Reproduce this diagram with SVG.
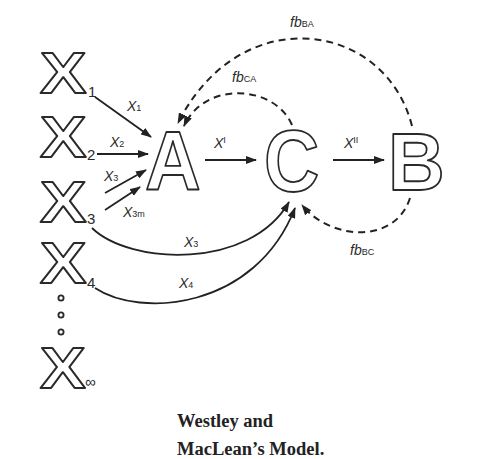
<svg xmlns="http://www.w3.org/2000/svg" width="480" height="459" viewBox="0 0 480 459">
<style>
.big{font-family:"Liberation Sans",Arial,sans-serif;fill:#fff;stroke:#2a2a2a;stroke-width:1.8;stroke-linejoin:round}
.bx{font-weight:bold;font-size:58px}
.sub{font-family:"Liberation Sans",Arial,sans-serif;font-size:15px;fill:#2a2a2a}
.lbl{font-family:"Liberation Sans",Arial,sans-serif;font-style:italic;font-size:14px;fill:#2a2a2a}
.sm{font-size:9px;font-style:normal}
.ln{fill:none;stroke:#222;stroke-width:1.8}
.dash{fill:none;stroke:#222;stroke-width:2;stroke-dasharray:7 5}
.cap{font-family:"Liberation Serif","Times New Roman",serif;font-weight:bold;font-size:18.5px;fill:#222}
</style>
<defs>
<marker id="ah" markerWidth="11" markerHeight="8" refX="10" refY="4" orient="auto" markerUnits="userSpaceOnUse">
<path d="M0,0 L11,4 L0,8 Z" fill="#222"/>
</marker>
</defs>
<rect width="480" height="459" fill="#fff"/>

<g id="X1"><text class="big bx" transform="translate(40,93) scale(1.2,1)">X</text><text class="sub" x="88" y="97">1</text></g>
<g id="X2"><text class="big bx" transform="translate(40,157) scale(1.2,1)">X</text><text class="sub" x="87" y="160">2</text></g>
<g id="X3"><text class="big bx" transform="translate(40,222) scale(1.2,1)">X</text><text class="sub" x="87" y="224">3</text></g>
<g id="X4"><text class="big bx" transform="translate(40,283) scale(1.2,1)">X</text><text class="sub" x="87" y="288">4</text></g>
<g id="dots" fill="none" stroke="#2a2a2a" stroke-width="1.8"><circle cx="61" cy="298" r="2.6"/><circle cx="61" cy="315" r="2.6"/><circle cx="61" cy="332" r="2.6"/></g>
<g id="Xinf"><text class="big bx" transform="translate(40,388) scale(1.18,1)">X</text><text class="sub" x="85" y="387" font-size="13">∞</text></g>

<g id="A"><text class="big" font-size="84" font-weight="bold" transform="translate(145,190) scale(0.92,1)">A</text></g>
<g id="C"><text class="big" font-size="87" font-weight="bold" transform="translate(264,191) scale(0.88,1)">C</text></g>
<g id="B"><text class="big" font-size="81" font-weight="bold" transform="translate(388,190) scale(0.97,1)">B</text></g>

<g id="connectors">
<path class="ln" d="M95,97 L151,137" marker-end="url(#ah)"/>
<path class="ln" d="M97,154 L148,154" marker-end="url(#ah)"/>
<path class="ln" d="M105,193 L146,170" marker-end="url(#ah)"/>
<path class="ln" d="M105,210 L140,187" marker-end="url(#ah)"/>
<path class="ln" d="M205,160 L256,160" marker-end="url(#ah)"/>
<path class="ln" d="M333,160 L384,160" marker-end="url(#ah)"/>
<path class="ln" d="M92,228 C130,265 250,270 289,202" marker-end="url(#ah)"/>
<path class="ln" d="M95,288 C140,318 255,310 295,208" marker-end="url(#ah)"/>
<path class="dash" d="M412,126 C385,20 240,0 178,123" marker-end="url(#ah)"/>
<path class="dash" d="M292,125 C275,85 205,80 184,126" marker-end="url(#ah)"/>
<path class="dash" d="M410,198 C395,245 330,240 302,205" marker-end="url(#ah)"/>

<text class="lbl" x="127" y="111">X<tspan class="sm">1</tspan></text>
<text class="lbl" x="110" y="147">X<tspan class="sm">2</tspan></text>
<text class="lbl" x="104" y="181">X<tspan class="sm">3</tspan></text>
<text class="lbl" x="123" y="217">X<tspan class="sm">3m</tspan></text>
<text class="lbl" x="214" y="148">X<tspan class="sm" dy="-5">I</tspan></text>
<text class="lbl" x="344" y="148">X<tspan class="sm" dy="-5">II</tspan></text>
<text class="lbl" x="184" y="247">X<tspan class="sm">3</tspan></text>
<text class="lbl" x="179" y="288">X<tspan class="sm">4</tspan></text>
<text class="lbl" x="290" y="27">fb<tspan class="sm">BA</tspan></text>
<text class="lbl" x="232" y="82">fb<tspan class="sm">CA</tspan></text>
<text class="lbl" x="350" y="255">fb<tspan class="sm">BC</tspan></text>
</g>

<g id="caption">
<text class="cap" x="177" y="427">Westley and</text>
<text class="cap" x="177" y="455">MacLean’s Model.</text>
</g>
</svg>
